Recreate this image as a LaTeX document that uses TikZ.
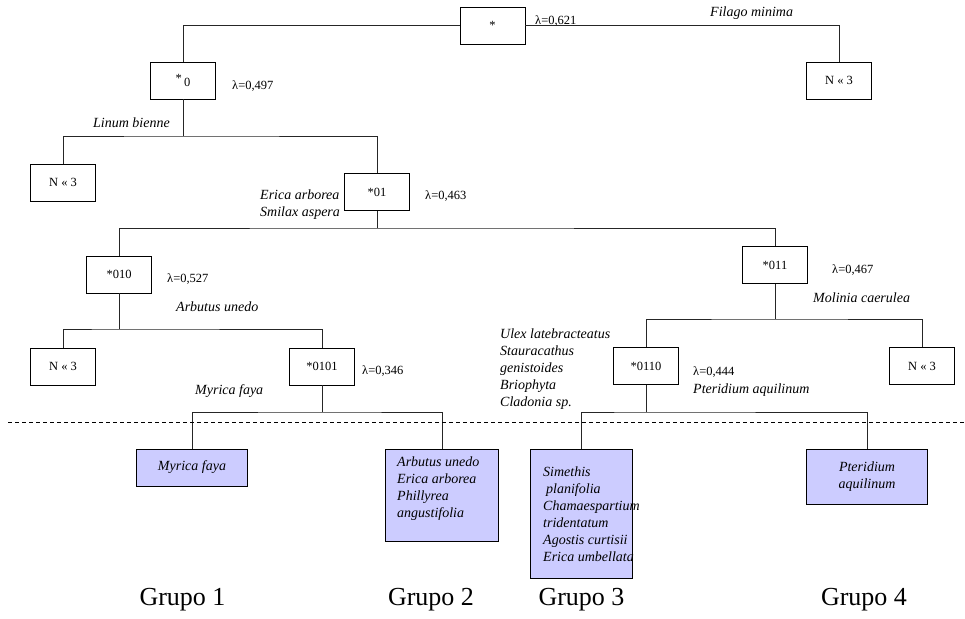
\documentclass[tikz,border=0pt]{standalone}
\usepackage{fontspec}
\setmainfont{Liberation Serif}
\definecolor{grupofill}{HTML}{CCCCFF}

\begin{document}
\begin{tikzpicture}[x=1pt, y=-1pt,
    splitbox/.style={draw, line width=0.8pt, minimum width=65pt, minimum height=37pt,
      inner sep=0pt, font=\fontsize{12.5}{15}\selectfont},
    grupobox/.style={draw, line width=0.8pt, fill=grupofill, inner sep=0pt,
      font=\fontsize{14}{17}\selectfont\itshape},
    lam/.style={anchor=west, inner sep=0pt, font=\fontsize{12.5}{15}\selectfont},
    spp/.style={anchor=west, inner sep=0pt, font=\fontsize{14}{17}\selectfont\itshape},
    sppblock/.style={anchor=north west, inner sep=0pt, align=left,
      font=\fontsize{14}{17}\selectfont\itshape},
    grupo/.style={inner sep=0pt, font=\fontsize{26}{30}\selectfont},
    tree/.style={line width=0.8pt, black!85},
  ]
  \useasboundingbox (0,0) rectangle (965,618);

  % splits
  \node[splitbox] (root) at (492.5,25.5) {*};
  \node[splitbox] (r3) at (839,80.5) {N « 3};
  \node[splitbox] (n0) at (183,80.5) {*\,\raisebox{-4pt}{0}};
  \node[splitbox] (l3) at (63,182.5) {N « 3};
  \node[splitbox] (n01) at (377,192) {*01};
  \node[splitbox] (n010) at (119,274.5) {*010};
  \node[splitbox] (l3b) at (63,366.5) {N « 3};
  \node[splitbox] (n0101) at (322,366.5) {*0101};
  \node[splitbox] (n011) at (775,265) {*011};
  \node[splitbox] (n0110) at (646,366) {*0110};
  \node[splitbox] (r3b) at (922,366) {N « 3};

  % final groups
  \node[grupobox, minimum width=111pt, minimum height=37pt] (g1) at (192,467.5) {Myrica faya};
  \node[grupobox, minimum width=113pt, minimum height=92pt] (g2) at (442,495) {};
  \node[sppblock] (g2list) at (397,457) {Arbutus unedo\\Erica arborea\\Phillyrea\\angustifolia};
  \node[grupobox, minimum width=102pt, minimum height=129pt] (g3) at (581,513.5) {};
  \node[sppblock] (g3list) at (543,467) {Simethis\\\hspace*{3pt}planifolia\\Chamaespartium\\tridentatum\\Agostis curtisii\\Erica umbellata};
  \node[grupobox, minimum width=121pt, minimum height=55pt, align=center] (g4) at (867,476.5) {Pteridium\\aquilinum};

  % eigenvalues and indicator species
  \node[lam] (lroot) at (535,21) {λ=0,621};
  \node[spp] (sroot) at (710,13) {Filago minima};
  \node[lam] (ln0) at (232,86) {λ=0,497};
  \node[spp] (sn0) at (93,123) {Linum bienne};
  \node[sppblock] (sn01) at (260,190) {Erica arborea\\Smilax aspera};
  \node[lam] (ln01) at (425,196) {λ=0,463};
  \node[lam] (ln010) at (167,279) {λ=0,527};
  \node[spp] (sn010) at (176,307) {Arbutus unedo};
  \node[lam] (ln0101) at (362,371) {λ=0,346};
  \node[spp] (sn0101) at (195,391) {Myrica faya};
  \node[lam] (ln011) at (832,270) {λ=0,467};
  \node[spp] (sn011) at (813,298) {Molinia caerulea};
  \node[lam] (ln0110) at (693,372) {λ=0,444};
  \node[spp] (sn0110) at (693,390) {Pteridium aquilinum};
  \node[sppblock] (sulex) at (500,329) {Ulex latebracteatus\\Stauracathus\\genistoides\\Briophyta\\Cladonia sp.};

  % group names
  \node[grupo] (t1) at (182.5,600) {Grupo 1};
  \node[grupo] (t2) at (431,600) {Grupo 2};
  \node[grupo] (t3) at (581.5,600) {Grupo 3};
  \node[grupo] (t4) at (864,600) {Grupo 4};

  % branches
  \coordinate (b0) at (183,136);
  \coordinate (b01) at (377,228);
  \coordinate (b010) at (119,329);
  \coordinate (b0101) at (322,412);
  \coordinate (b011) at (775,319);
  \coordinate (b0110) at (646,412);
  \draw[tree] (root.west) -| (n0.north);
  \draw[tree] (root.east) -| (r3.north);
  \draw[tree] (n0.south) -- (b0);
  \draw[tree] (l3.north) |- (b0) -| (n01.north);
  \draw[tree] (n01.south) -- (b01);
  \draw[tree] (n010.north) |- (b01) -| (n011.north);
  \draw[tree] (n010.south) -- (b010);
  \draw[tree] (l3b.north) |- (b010) -| (n0101.north);
  \draw[tree] (n0101.south) -- (b0101);
  \draw[tree] (g1.north) |- (b0101) -| (g2.north);
  \draw[tree] (n011.south) -- (b011);
  \draw[tree] (n0110.north) |- (b011) -| (r3b.north);
  \draw[tree] (n0110.south) -- (b0110);
  \draw[tree] (g3.north) |- (b0110) -| (g4.north);

  % cut level
  \coordinate (cutL) at (8,422);
  \coordinate (cutR) at (965,422);
  \draw[line width=0.8pt, dash pattern=on 4pt off 3pt] (cutL) -- (cutR);
\end{tikzpicture}
\end{document}
